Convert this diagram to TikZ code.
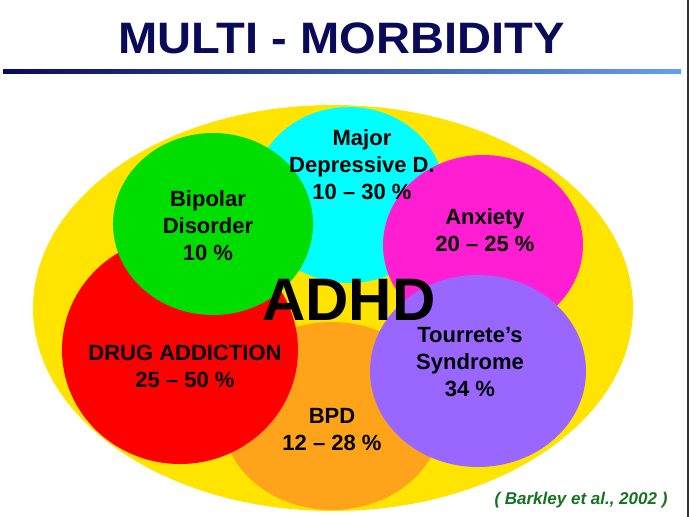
\documentclass[tikz,border=0pt]{standalone}
\usepackage{fontspec}
\setmainfont{Liberation Sans}
\usetikzlibrary{shapes.geometric}
\definecolor{navy}{RGB}{10,10,90}
\definecolor{lineblue}{RGB}{100,160,240}
\definecolor{ylw}{RGB}{255,228,0}
\definecolor{cyn}{RGB}{0,255,255}
\definecolor{grn}{RGB}{0,222,0}
\definecolor{mag}{RGB}{255,30,210}
\definecolor{rd}{RGB}{255,0,0}
\definecolor{orng}{RGB}{255,163,26}
\definecolor{prpl}{RGB}{153,102,255}
\definecolor{citegreen}{RGB}{20,115,30}
\tikzset{
  blob/.style={ellipse, draw=none, inner sep=0pt, outer sep=0pt},
  lbl/.style={align=center, text=black, font=\fontsize{22}{27}\selectfont\bfseries},
}
\begin{document}
\begin{tikzpicture}[x=1pt,y=-1pt]
\useasboundingbox (0,0) rectangle (689,517);
\fill[white] (0,0) rectangle (689,517);
% title
\node[font=\fontsize{44}{50}\selectfont\bfseries, text=navy, xscale=1.07, inner sep=0pt] (title) at (341.5,38) {MULTI - MORBIDITY};
\shade[left color=navy, right color=lineblue] (3,69) rectangle (681,73);
% shapes
\node[blob, fill=ylw, minimum width=600pt, minimum height=406pt] (adhdarea) at (333,308) {};
\node[blob, fill=orng, minimum width=220pt, minimum height=188pt] (bpd) at (332,416) {};
\node[blob, fill=cyn, minimum width=192pt, minimum height=176pt] (mdd) at (349,195) {};
\node[blob, fill=rd, minimum width=236pt, minimum height=228pt] (drug) at (180,350) {};
\node[blob, fill=grn, minimum width=200pt, minimum height=182pt] (bip) at (213,224) {};
\node[blob, fill=mag, minimum width=200pt, minimum height=180pt] (anx) at (483,245) {};
\node[blob, fill=prpl, minimum width=216pt, minimum height=192pt] (tour) at (478,371) {};
% labels
\node[lbl] (mddl) at (362,165) {Major\\Depressive D.\\10 -- 30 \%};
\node[lbl] (bipl) at (208,226) {Bipolar\\Disorder\\10 \%};
\node[lbl] (anxl) at (485,230) {Anxiety\\20 -- 25 \%};
\node[lbl] (drugl) at (185,366) {DRUG ADDICTION\\25 -- 50 \%};
\node[lbl] (bpdl) at (332,430) {BPD\\12 -- 28 \%};
\node[lbl] (tourl) at (470,362) {Tourrete’s\\Syndrome\\34 \%};
\node[font=\fontsize{60}{60}\selectfont\bfseries, text=black, inner sep=0pt] (adhd) at (349,300) {ADHD};
\node[font=\fontsize{17}{20}\selectfont\bfseries\itshape, text=citegreen, inner sep=0pt] (cite) at (581,500) {( Barkley et al., 2002 )};
\draw[line width=1.2pt, color=black!80] (688,0) -- (688,517);
\end{tikzpicture}
\end{document}
